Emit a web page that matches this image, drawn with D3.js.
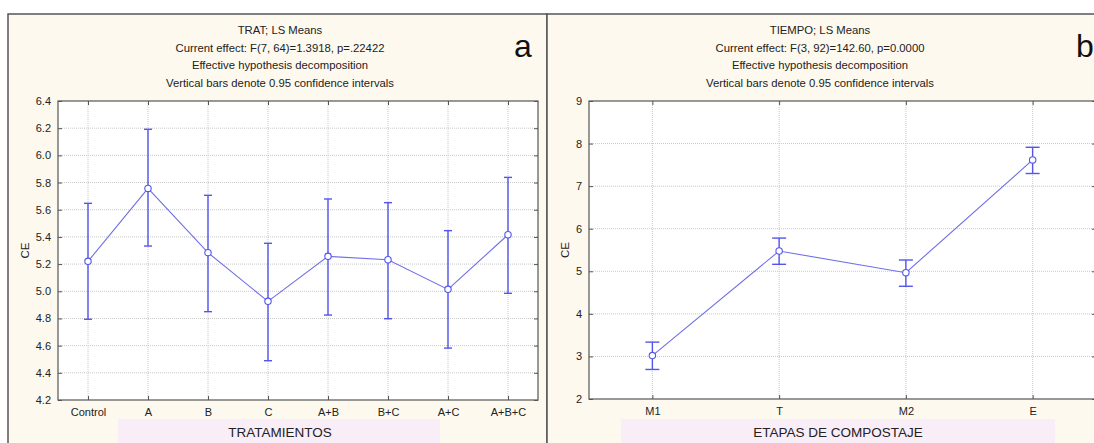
<!DOCTYPE html>
<html><head><meta charset="utf-8">
<script src="https://cdn.jsdelivr.net/npm/d3@7/dist/d3.min.js"></script>
<style>
html,body{margin:0;padding:0;background:#fff;}
svg{display:block;font-family:"Liberation Sans",Arial,sans-serif;}
</style></head>
<body>
<svg id="c" width="1094" height="443"></svg>
<script>
// Panel a data
const catsA = ["Control","A","B","C","A+B","B+C","A+C","A+B+C"];
const meanA = [5.22,5.757,5.284,4.926,5.257,5.232,5.014,5.416];
const upA   = [5.647,6.192,5.706,5.353,5.679,5.652,5.446,5.838];
const loA   = [4.794,5.333,4.85,4.489,4.825,4.798,4.582,4.985];
const ticksA = [4.2,4.4,4.6,4.8,5.0,5.2,5.4,5.6,5.8,6.0,6.2,6.4];
const titleA = ["TRAT; LS Means","Current effect: F(7, 64)=1.3918, p=.22422","Effective hypothesis decomposition","Vertical bars denote 0.95 confidence intervals"];

// Panel b data
const catsB = ["M1","T","M2","E"];
const meanB = [3.02,5.476,4.967,7.615];
const upB   = [3.336,5.78,5.265,7.913];
const loB   = [2.694,5.164,4.648,7.297];
const ticksB = [2,3,4,5,6,7,8,9];
const titleB = ["TIEMPO; LS Means","Current effect: F(3, 92)=142.60, p=0.0000","Effective hypothesis decomposition","Vertical bars denote 0.95 confidence intervals"];

const svg = d3.select("#c");

function panel(cfg){
  const g = svg.append("g");
  g.append("rect").attr("x",cfg.px).attr("y",14).attr("width",cfg.pw).attr("height",440)
    .attr("fill","#fdf9ee").attr("stroke","#555").attr("stroke-width",1.5);
  g.append("rect").attr("x",cfg.bandX).attr("y",419).attr("width",cfg.bandW).attr("height",30)
    .attr("fill","#f9eef8");
  const x = d3.scalePoint().domain(cfg.cats).range([cfg.l,cfg.r]).padding(0.5);
  const y = d3.scaleLinear().domain(cfg.domain).range([cfg.b,cfg.t]);
  g.append("rect").attr("x",cfg.l).attr("y",cfg.t).attr("width",cfg.r-cfg.l).attr("height",cfg.b-cfg.t)
    .attr("fill","#fff");
  g.selectAll(null).data(cfg.ticks.slice(1,-1)).join("line")
    .attr("x1",cfg.l).attr("x2",cfg.r).attr("y1",d=>y(d)).attr("y2",d=>y(d))
    .attr("stroke","#c8c8c8").attr("stroke-dasharray","1,1");
  g.selectAll(null).data(cfg.cats).join("line")
    .attr("x1",d=>x(d)).attr("x2",d=>x(d)).attr("y1",cfg.t).attr("y2",cfg.b)
    .attr("stroke","#c8c8c8").attr("stroke-dasharray","1,1");
  const fmt = cfg.fmt;
  g.append("g").attr("transform",`translate(${cfg.l},0)`)
    .call(d3.axisLeft(y).tickValues(cfg.ticks).tickFormat(fmt).tickSizeInner(-4).tickSizeOuter(0).tickPadding(7))
    .call(a=>{a.select(".domain").remove();a.selectAll("line").attr("stroke","#555");a.selectAll("text").attr("font-size",11).attr("fill","#222").attr("font-family","Liberation Sans, Arial, sans-serif");});
  g.append("g").attr("transform",`translate(${cfg.r},0)`)
    .call(d3.axisRight(y).tickValues(cfg.ticks).tickSizeInner(-4).tickSizeOuter(0).tickFormat(""))
    .call(a=>{a.select(".domain").remove();a.selectAll("line").attr("stroke","#555");});
  g.append("g").attr("transform",`translate(0,${cfg.b})`)
    .call(d3.axisBottom(x).tickSizeInner(-4).tickSizeOuter(0).tickPadding(8))
    .call(a=>{a.select(".domain").remove();a.selectAll("line").attr("stroke","#555");a.selectAll("text").attr("font-size",11).attr("fill","#222").attr("font-family","Liberation Sans, Arial, sans-serif");});
  g.append("g").attr("transform",`translate(0,${cfg.t})`)
    .call(d3.axisTop(x).tickSizeInner(-4).tickSizeOuter(0).tickFormat(""))
    .call(a=>{a.select(".domain").remove();a.selectAll("line").attr("stroke","#555");});
  g.append("rect").attr("x",cfg.l).attr("y",cfg.t).attr("width",cfg.r-cfg.l).attr("height",cfg.b-cfg.t)
    .attr("fill","none").attr("stroke","#555").attr("stroke-width",1.2);
  const pts = cfg.cats.map((c,i)=>[x(c),y(cfg.mean[i])]);
  g.append("path").attr("d",d3.line()(pts)).attr("fill","none").attr("stroke","#6f6fe6").attr("stroke-width",1.1);
  const cap = cfg.cap;
  cfg.cats.forEach((c,i)=>{
    const cx = x(c);
    g.append("line").attr("x1",cx).attr("x2",cx).attr("y1",y(cfg.lo[i])).attr("y2",y(cfg.up[i])).attr("stroke","#5555ee").attr("stroke-width",1.4);
    [cfg.lo[i],cfg.up[i]].forEach(v=>{
      g.append("line").attr("x1",cx-cap).attr("x2",cx+cap).attr("y1",y(v)).attr("y2",y(v)).attr("stroke","#5555ee").attr("stroke-width",1.4);
    });
  });
  g.selectAll(null).data(pts).join("circle").attr("cx",d=>d[0]).attr("cy",d=>d[1]).attr("r",3.2)
    .attr("fill","#fff").attr("stroke","#5555ee").attr("stroke-width",1.1);
  cfg.title.forEach((t,i)=>{
    g.append("text").attr("x",cfg.tx).attr("y",34+i*17.7).attr("text-anchor","middle")
      .attr("font-size",11.3).attr("fill","#222").text(t);
  });
  g.append("text").attr("x",cfg.lx).attr("y",57).attr("font-size",32).attr("fill","#111").text(cfg.letter);
  g.append("text").attr("transform",`translate(${cfg.yx},${(cfg.t+cfg.b)/2}) rotate(-90)`).attr("text-anchor","middle")
    .attr("font-size",11.5).attr("fill","#222").text("CE");
  g.append("text").attr("x",cfg.xtx).attr("y",437).attr("text-anchor","middle")
    .attr("font-size",13.5).attr("fill","#222").text(cfg.xtitle);
}

panel({px:8,pw:539,l:58,r:538,t:101,b:400,cats:catsA,mean:meanA,up:upA,lo:loA,ticks:ticksA,domain:[4.2,6.4],
  fmt:d3.format(".1f"),title:titleA,tx:280,letter:"a",lx:514,yx:29,xtitle:"TRATAMIENTOS",xtx:280,bandX:118,bandW:322,cap:4});
panel({px:547,pw:600,l:589,r:1096,t:101,b:399,cats:catsB,mean:meanB,up:upB,lo:loB,ticks:ticksB,domain:[2,9],
  fmt:d3.format("d"),title:titleB,tx:820,letter:"b",lx:1076,yx:569,xtitle:"ETAPAS DE COMPOSTAJE",xtx:838,bandX:621,bandW:434,cap:7});
</script>
</body></html>
